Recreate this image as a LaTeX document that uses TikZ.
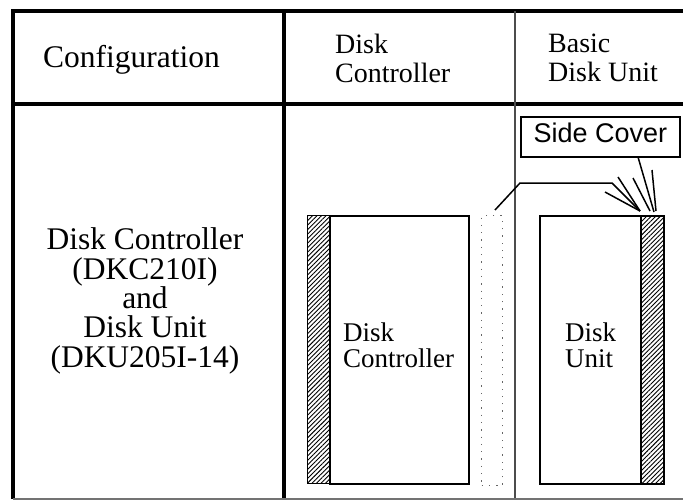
\documentclass[tikz,border=0pt]{standalone}
\usepackage{fontspec}
\setmainfont{Liberation Serif}
\newfontfamily\sansf{Liberation Sans}
\usetikzlibrary{patterns.meta}
\begin{document}
\begin{tikzpicture}[x=1pt,y=-1pt,
  thickrule/.style={line width=3.5pt},
  thinrule/.style={line width=1.5pt, black!70},
  baserule/.style={line width=1.2pt, black!55},
  cabinet/.style={draw, line width=1.8pt, inner sep=0pt},
  hatchstrip/.style={draw, line width=1.5pt, inner sep=0pt,
    pattern={Lines[angle=45,distance=3.2pt,line width=0.9pt]}},
  ghostbox/.style={draw=black!60, line width=1.3pt, dash pattern=on 1.3pt off 6pt, inner sep=0pt},
  bigtxt/.style={font=\fontsize{31.5}{29.3}\selectfont, inner sep=0pt},
  hdrtxt/.style={font=\fontsize{28}{29}\selectfont, inner sep=0pt, align=left},
  boxtxt/.style={font=\fontsize{27}{26}\selectfont, inner sep=0pt, align=left},
  leader/.style={line width=1.5pt}]
\useasboundingbox (0,0) rectangle (683,501);

% table rules
\draw[thickrule] (683,11) -- (13,11) -- (13,499);
\draw[thickrule] (13,104) -- (683,104);
\draw[thickrule] (284,11) -- (284,499);
\draw[thinrule] (515,11) -- (515,499);
\draw[baserule] (13,499) -- (683,499);

% header texts
\node[bigtxt, anchor=base] (hconf) at (131.5,67) {Configuration};
\node[hdrtxt, anchor=north west] (hdkc) at (335,34) {Disk\\Controller};
\node[hdrtxt, anchor=north west] (hdku) at (548,34) {Basic\\Disk Unit};

% configuration text
\node[bigtxt, align=center] (conf) at (145,301)
  {Disk Controller\\(DKC210I)\\and\\Disk Unit\\(DKU205I-14)};

% disk controller cabinet
\node[hatchstrip, minimum width=22pt, minimum height=268pt, anchor=north west] (dkchatch) at (307,215) {};
\node[cabinet, minimum width=139pt, minimum height=268pt, anchor=north west] (dkc) at (329,215) {};
\node[boxtxt, anchor=north west] (dkctxt) at (343,323) {Disk\\Controller};

% ghost (dotted) position
\node[ghostbox, minimum width=21pt, minimum height=270pt, anchor=north west] (ghost) at (481,215) {};

% disk unit cabinet
\node[cabinet, minimum width=101pt, minimum height=268pt, anchor=north west] (dku) at (539,215) {};
\node[hatchstrip, minimum width=23pt, minimum height=268pt, anchor=north west] (dkuhatch) at (640,215) {};
\node[boxtxt, anchor=north west] (dkutxt) at (565,323) {Disk\\Unit};

% side cover label
\node[draw, line width=1.5pt, minimum width=159pt, minimum height=40pt,
      font=\sansf\fontsize{27}{27}\selectfont, text depth=9pt, inner sep=0pt]
      (side) at (600.5,137) {Side Cover};

% connector from ghost to disk unit side cover
\coordinate (cstart) at (495,210);
\coordinate (cend) at (640,211);
\draw[leader] (cstart) -- (520,183) -- (612,183) -- (cend);
\draw[leader] (605,192) -- (cend);
\draw[leader] (618,177) -- (cend);

% side cover leaders
\coordinate (send) at (654,212);
\draw[leader] (638,157) -- (send);
\draw[leader] (633,178) -- (650,211);
\draw[leader] (652,170) -- (656,211);
\end{tikzpicture}
\end{document}
